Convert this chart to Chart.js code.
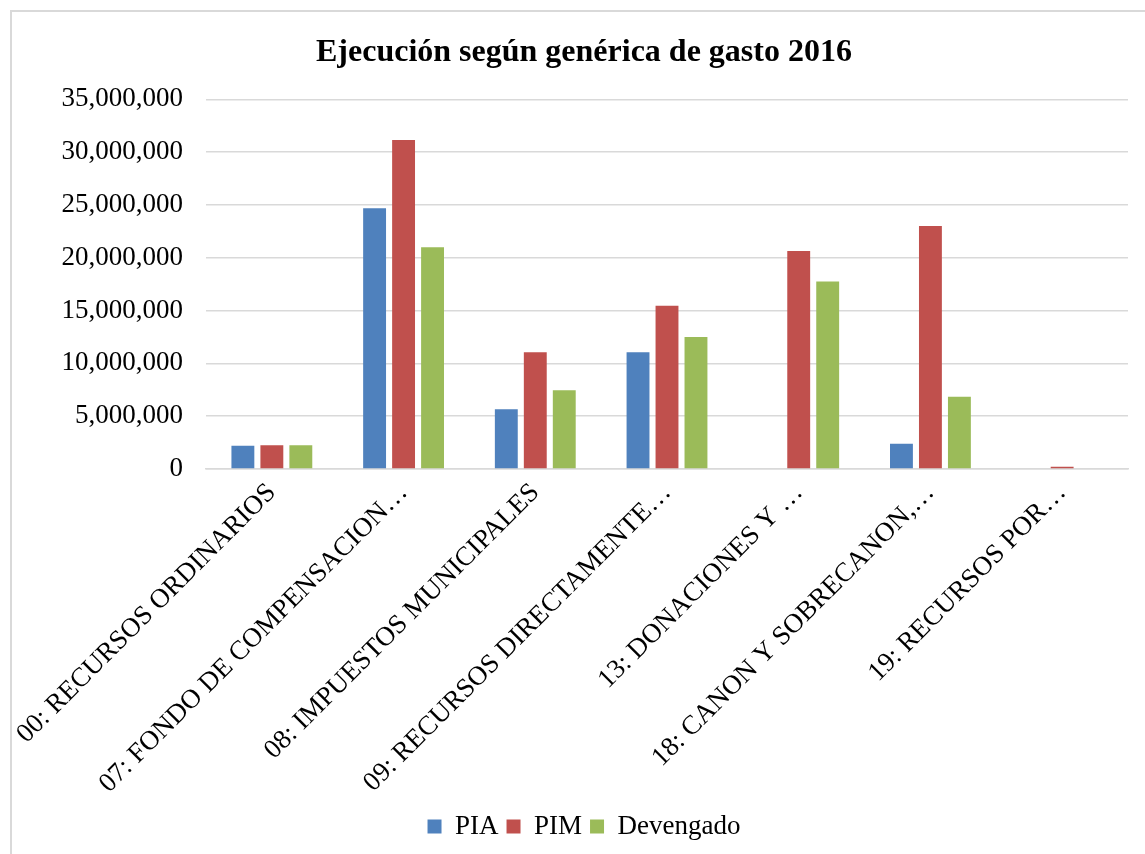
<!DOCTYPE html>
<html lang="es">
<head>
<meta charset="utf-8">
<title>Ejecución según genérica de gasto 2016</title>
<script src="https://cdn.jsdelivr.net/npm/chart.js@4.4.0/dist/chart.umd.min.js"></script>
<style>
    html, body { margin: 0; padding: 0; background: #fff; overflow: hidden; }
    .chart-box {
        position: absolute;
        left: 10px;
        top: 10px;
        width: 1133px;
        height: 842px;
        border-left: 2px solid #d9d9d9;
        border-top: 2px solid #d9d9d9;
    }
</style>
</head>
<body>
<div class="chart-box">
    <canvas id="gastoChart"></canvas>
</div>
<script>
// Fuentes de financiamiento (etiquetas truncadas como en el original)
const categorias = [
    '00: RECURSOS ORDINARIOS',
    '07: FONDO DE COMPENSACION…',
    '08: IMPUESTOS MUNICIPALES',
    '09: RECURSOS DIRECTAMENTE…',
    '13: DONACIONES Y …',
    '18: CANON Y SOBRECANON,…',
    '19: RECURSOS POR…'
];
const pia = [2200000, 24700000, 5650000, 11050000, 0, 2400000, 0];
const pim = [2250000, 31150000, 11050000, 15450000, 20650000, 23000000, 220000];
const devengado = [2250000, 21000000, 7450000, 12500000, 17750000, 6850000, 0];
const yTicks = [0, 5000000, 10000000, 15000000, 20000000, 25000000, 30000000, 35000000];

document.addEventListener("DOMContentLoaded", () => {
    const serif = "'Liberation Serif', 'Times New Roman', serif";
    const ctx = document.getElementById('gastoChart').getContext('2d');
    new Chart(ctx, {
        type: 'bar',
        data: {
            labels: categorias,
            datasets: [{
                label: 'PIA',
                data: pia,
                backgroundColor: '#4f81bd'
            }, {
                label: 'PIM',
                data: pim,
                backgroundColor: '#c0504d'
            }, {
                label: 'Devengado',
                data: devengado,
                backgroundColor: '#9bbb59'
            }]
        },
        options: {
            responsive: true,
            maintainAspectRatio: false,
            animation: false,
            categoryPercentage: 0.66,
            barPercentage: 0.79,
            layout: {
                padding: { left: 28, right: 17, top: 0, bottom: 4 }
            },
            plugins: {
                title: {
                    display: true,
                    text: 'Ejecución según genérica de gasto 2016',
                    color: '#000',
                    font: { family: serif, size: 32, weight: 'bold' },
                    padding: { top: 22, bottom: 27 }
                },
                legend: {
                    display: true,
                    position: 'bottom',
                    labels: {
                        color: '#000',
                        font: { family: serif, size: 27 },
                        boxWidth: 14,
                        boxHeight: 14,
                        padding: 8
                    }
                },
                tooltip: { enabled: false }
            },
            scales: {
                x: {
                    grid: { display: false },
                    border: { display: true, color: '#d9d9d9', width: 1.5 },
                    ticks: {
                        color: '#000',
                        font: { family: serif, size: 27 },
                        minRotation: 45,
                        maxRotation: 45,
                        autoSkip: false,
                        padding: 0
                    },
                    afterFit: (scale) => {
                        scale.height = 336;
                        // rotated labels may overflow the left edge, like in the original
                        scale.paddingLeft = 0;
                        scale.paddingRight = 0;
                    }
                },
                y: {
                    min: 0,
                    max: 35000000,
                    afterBuildTicks: (scale) => {
                        scale.ticks = yTicks.map(v => ({ value: v }));
                    },
                    grid: { color: '#d9d9d9', lineWidth: 1.5, drawTicks: false },
                    border: { display: false },
                    ticks: {
                        color: '#000',
                        font: { family: serif, size: 27 },
                        padding: 23,
                        callback: (value) => value.toLocaleString('en-US')
                    },
                    afterFit: (scale) => { scale.width = 166; }
                }
            }
        }
    });
});
</script>
</body>
</html>
